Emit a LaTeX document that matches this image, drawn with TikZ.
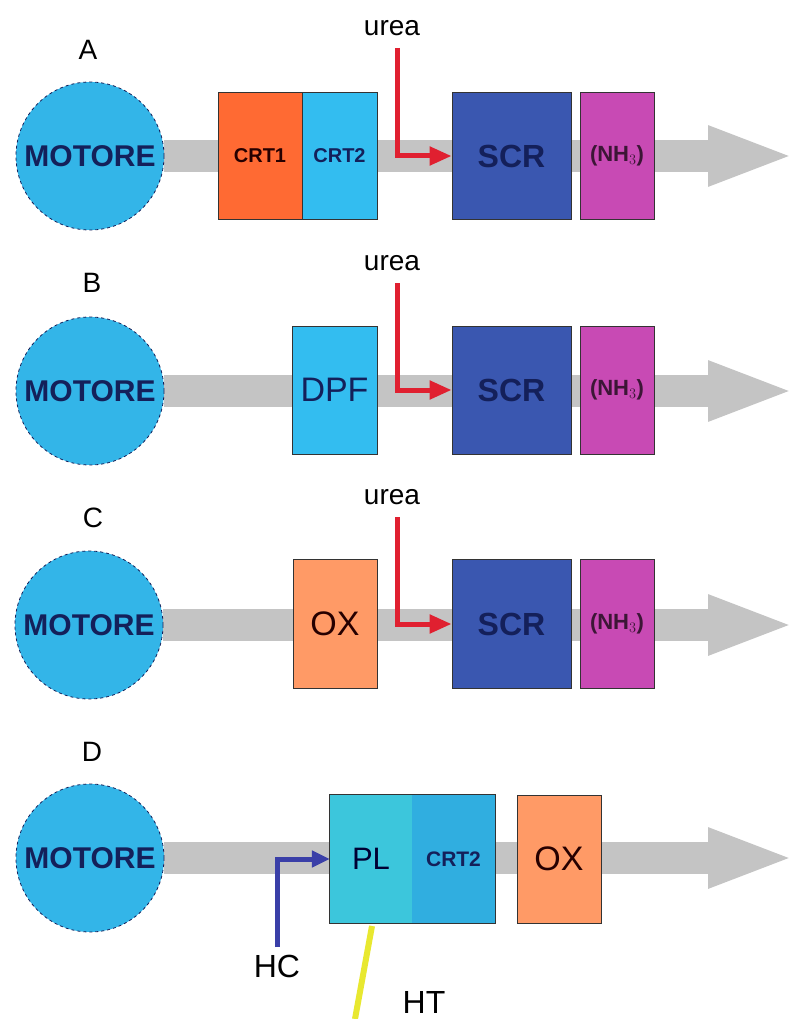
\documentclass[tikz,border=0pt]{standalone}
\usepackage{fontspec}
\setmainfont{Liberation Sans}
\usetikzlibrary{arrows.meta,backgrounds}
\definecolor{motorc}{HTML}{33B5E8}
\definecolor{crtonec}{HTML}{FF6A33}
\definecolor{cyanc}{HTML}{33BDF0}
\definecolor{scrc}{HTML}{3A57B0}
\definecolor{nhc}{HTML}{C84AB4}
\definecolor{oxc}{HTML}{FF9A66}
\definecolor{plc}{HTML}{3CC6DC}
\definecolor{crttwodc}{HTML}{30AEE0}
\definecolor{bandc}{HTML}{C4C4C4}
\definecolor{redc}{HTML}{E02030}
\definecolor{bluec}{HTML}{3A3FA8}
\definecolor{yellowc}{HTML}{E8E830}
\definecolor{navyc}{HTML}{14205A}
\tikzset{
  motor/.style={circle,minimum size=148pt,inner sep=0pt,fill=motorc,draw=navyc,dashed,line width=0.8pt,
    text=navyc,font=\bfseries\fontsize{30}{30}\selectfont},
  boxc/.style={rectangle,inner sep=0pt,minimum height=128pt,draw=black!80,line width=0.8pt,
    font=\fontsize{34}{34}\selectfont},
  smalllab/.style={font=\bfseries\fontsize{20}{20}\selectfont},
  rowlab/.style={font=\fontsize{28}{28}\selectfont},
  urealab/.style={font=\fontsize{28}{28}\selectfont},
  band/.style={draw=bandc,line width=32pt,-{Triangle[length=87pt,width=54pt]}},
  ureaarrow/.style={draw=redc,line width=5pt,-{Triangle[length=22pt,width=18pt]}},
  hcarrow/.style={draw=bluec,line width=5pt,-{Triangle[length=18pt,width=16pt]}},
}
\begin{document}
\begin{tikzpicture}[x=1pt,y=-1pt]
\useasboundingbox (0,0) rectangle (795,1019);
% row labels
\node[rowlab] (la) at (88,50) {A};
\node[rowlab] (lb) at (92,283) {B};
\node[rowlab] (lc) at (93,518) {C};
\node[rowlab] (ld) at (92,752) {D};
% motors
\node[motor] (mA) at (90,156) {MOTORE};
\node[motor] (mB) at (90,391) {MOTORE};
\node[motor] (mC) at (89,625) {MOTORE};
\node[motor] (mD) at (90,858) {MOTORE};
% row A
\node[boxc,fill=crtonec,minimum width=84pt,minimum height=127pt,text=black!85!red,smalllab] (crtA) at (260,156) {CRT1};
\node[boxc,fill=cyanc,minimum width=75pt,minimum height=127pt,text=navyc,smalllab] (crtB) at (339.5,156) {CRT2};
\node[boxc,fill=scrc,minimum width=119pt,minimum height=127pt,text=navyc,font=\bfseries\fontsize{32}{32}\selectfont] (scrA) at (511.5,156) {SCR};
\node[boxc,fill=nhc,minimum width=74pt,minimum height=127pt,text=black!70!nhc,font=\bfseries\fontsize{22}{22}\selectfont] (nhA) at (617,156) {(NH$_3$)};
% row B
\node[boxc,fill=cyanc,minimum width=85pt,text=navyc] (dpf) at (334.5,390) {DPF};
\node[boxc,fill=scrc,minimum width=119pt,text=navyc,font=\bfseries\fontsize{32}{32}\selectfont] (scrB) at (511.5,390) {SCR};
\node[boxc,fill=nhc,minimum width=74pt,text=black!70!nhc,font=\bfseries\fontsize{22}{22}\selectfont] (nhB) at (617,390) {(NH$_3$)};
% row C
\node[boxc,fill=oxc,minimum width=84pt,minimum height=129pt,text=black!85!red] (oxC) at (335,624) {OX};
\node[boxc,fill=scrc,minimum width=119pt,minimum height=129pt,text=navyc,font=\bfseries\fontsize{32}{32}\selectfont] (scrC) at (511.5,624) {SCR};
\node[boxc,fill=nhc,minimum width=74pt,minimum height=129pt,text=black!70!nhc,font=\bfseries\fontsize{22}{22}\selectfont] (nhC) at (617,624) {(NH$_3$)};
% row D
\node[rectangle,inner sep=0pt,minimum width=82pt,minimum height=128pt,fill=plc,font=\fontsize{31}{31}\selectfont,text=black!80!blue] (pl) at (371,859) {PL};
\node[rectangle,inner sep=0pt,minimum width=83pt,minimum height=128pt,fill=crttwodc,text=navyc,font=\bfseries\fontsize{21}{21}\selectfont] (crtD) at (453.5,859) {CRT2};
\draw[black!80,line width=0.8pt] (pl.north west) rectangle (crtD.south east);
\node[boxc,fill=oxc,minimum width=84pt,text=black!85!red] (oxD) at (559,859) {OX};
% urea labels
\node[urealab] (uA) at (392,28) {urea};
\node[urealab] (uB) at (392,263) {urea};
\node[urealab] (uC) at (392,497) {urea};
\node[font=\fontsize{32}{32}\selectfont] (hc) at (277,966) {HC};
\node[font=\fontsize{32}{32}\selectfont] (ht) at (424,1002) {HT};
% coordinates
\coordinate (eA) at (795,156);
\coordinate (eB) at (795,391);
\coordinate (eC) at (795,625);
\coordinate (eD) at (795,858);
\coordinate (rA) at (397,48);
\coordinate (rB) at (397,283);
\coordinate (rC) at (397,517);
\coordinate (bD) at (277,947);
\coordinate (yA) at (355,1019);
\coordinate (yB) at (372,926);
% background bands
\begin{scope}[on background layer]
\fill[white] (0,0) rectangle (795,1019);
\draw[band] (mA.east) -- (eA);
\draw[band] (mB.east) -- (eB);
\draw[band] (mC.east) -- (eC);
\draw[band] (mD.east) -- (eD);
\end{scope}
% urea arrows
\draw[ureaarrow] (rA) |- (scrA.west);
\draw[ureaarrow] (rB) |- (scrB.west);
\draw[ureaarrow] (rC) |- (scrC.west);
% HC arrow
\draw[hcarrow] (bD) |- (pl.west);
% yellow
\draw[yellowc,line width=6pt] (yA) -- (yB);
\end{tikzpicture}
\end{document}
